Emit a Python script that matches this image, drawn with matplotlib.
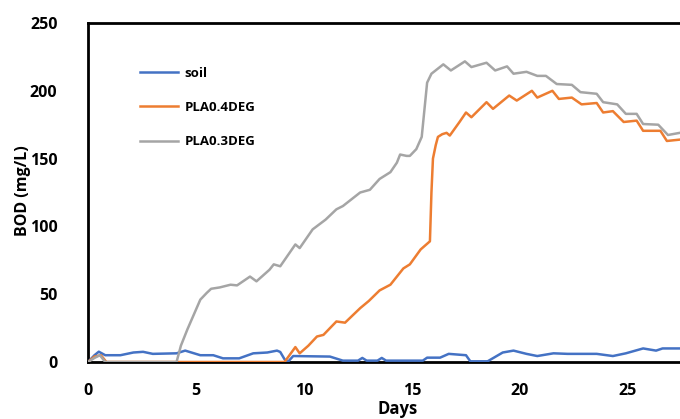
import matplotlib
matplotlib.use("Agg")
import matplotlib.pyplot as plt

plt.rcParams['font.family'] = ['Open Sans', 'DejaVu Sans']
plt.rcParams['font.weight'] = 'bold'

# ---- data ----
soil_days = [0, 0.3, 0.5, 0.8, 1.5, 2.1, 2.55, 3.0, 4.1, 4.5, 5.2, 5.8, 6.25, 7.0, 7.65,
             8.3, 8.75, 8.9, 9.1, 9.25, 9.5, 11.2, 11.8, 12.5, 12.7, 12.9, 13.4, 13.6,
             13.8, 15.5, 15.7, 16.3, 16.7, 17.5, 17.7, 18.5, 19.2, 19.7, 20.3, 20.8,
             21.55, 22.2, 23.55, 24.3, 24.9, 25.7, 26.3, 26.6, 27.4, 28]
soil_bod = [0, 5, 7.6, 5, 5, 7, 7.5, 6, 6.4, 8.4, 5, 5, 2.7, 2.7, 6.4,
            7, 8.4, 7.4, 2, 0, 4.4, 4, 1, 1, 3, 1, 1, 3,
            1, 1, 3.2, 3.2, 6, 5, 0.5, 0.5, 7, 8.4, 6, 4.4,
            6.4, 6, 6, 4.4, 6.4, 10, 8.4, 10, 10, 10]

pla04_days = [0, 0.3, 0.6, 0.85, 9.1, 9.6, 9.8, 10.2, 10.6, 10.9, 11.5, 11.9, 12.6, 13.0,
              13.5, 14.0, 14.6, 14.9, 15.4, 15.83, 15.9, 15.97, 16.1, 16.2, 16.4, 16.6,
              16.75, 17.2, 17.5, 17.75, 18.45, 18.75, 19.5, 19.85, 20.55, 20.8, 21.5,
              21.8, 22.4, 22.85, 23.55, 23.85, 24.3, 24.8, 25.4, 25.7, 26.5, 26.8, 27.4, 28]
pla04_bod = [0, 4, 5, 0, 0, 11, 6.4, 12, 18.8, 20, 29.9, 29, 39.7, 45,
             52.8, 57, 69, 72, 83, 89, 125, 150, 160, 166, 168, 169,
             167, 177, 184, 180.5, 191.6, 186.7, 196.5, 192.8, 200, 195, 200,
             194, 195, 190, 191, 184, 185, 177, 178, 170.5, 170.5, 163, 164, 164]

pla03_days = [0, 0.3, 0.55, 0.8, 4.1, 4.3, 4.6, 4.9, 5.2, 5.5, 5.7, 6.1, 6.6, 6.9, 7.5,
              7.8, 8.4, 8.6, 8.9, 9.6, 9.8, 10.4, 11.0, 11.5, 11.8, 12.6, 13.05, 13.5,
              14.0, 14.3, 14.45, 14.75, 14.9, 15.2, 15.45, 15.7, 15.9, 16.45, 16.8, 17.45,
              17.75, 18.45, 18.85, 19.4, 19.7, 20.3, 20.8, 21.2, 21.7, 22.4, 22.8, 23.55,
              23.85, 24.5, 24.9, 25.4, 25.7, 26.4, 26.85, 27.4, 28]
pla03_bod = [0, 3, 5, 0, 0, 12, 24, 35, 46, 51, 54, 55, 57, 56.5, 63,
             59.5, 68, 72, 70.6, 86.7, 84, 97.8, 105, 112.6, 115, 125, 127, 135,
             140, 147, 153, 152, 152, 157, 166, 206, 212.6, 219.5, 215, 221.7,
             217.5, 220.7, 215, 218, 212.6, 214, 211, 211, 205, 204.4, 199, 197.8,
             191.6, 190, 183, 183, 175.5, 175, 167.4, 169, 169]

series_names = ['soil', 'PLA0.4DEG', 'PLA0.3DEG']
series_colors = ['#4472C4', '#ED7D31', '#A5A5A5']
x_ticks = [0, 5, 10, 15, 20, 25]
y_ticks = [0, 50, 100, 150, 200, 250]

W, H = 680, 419
fig = plt.figure(figsize=(W / 100, H / 100), dpi=100)
ax_left, ax_bottom = 88, 362
ax_w = 28 * 21.6
ax_h = 362 - 23
ax = fig.add_axes([ax_left / W, (H - ax_bottom) / H, ax_w / W, ax_h / H])

for d, v, n, c in zip([soil_days, pla04_days, pla03_days],
                      [soil_bod, pla04_bod, pla03_bod], series_names, series_colors):
    ax.plot(d, v, color=c, lw=1.8, label=n, zorder=3, solid_joinstyle='round')

ax.set_xlim(0, 28)
ax.set_ylim(0, 250)
ax.set_xticks(x_ticks)
ax.set_yticks(y_ticks)
ax.tick_params(length=0, labelsize=11.5)
ax.tick_params(axis='x', pad=15)
ax.tick_params(axis='y', pad=22)
for lab in ax.get_xticklabels() + ax.get_yticklabels():
    lab.set_fontweight('bold')
for s in ['left', 'top', 'bottom']:
    ax.spines[s].set_linewidth(2)
    ax.spines[s].set_color('black')
ax.spines['right'].set_visible(False)

fig.text(398 / W, 1 - 418 / H, 'Days', ha='center', va='bottom', fontsize=12, fontweight='bold')
fig.text(23 / W, 1 - 191 / H, 'BOD (mg/L)', ha='center', va='center', rotation=90,
         fontsize=11.5, fontweight='bold')

leg = fig.legend(loc='upper left', bbox_to_anchor=(140 / W, 1 - 67 / H), frameon=False,
                 prop={'size': 9.5, 'weight': 'bold'}, handlelength=2.9,
                 handletextpad=0.5, labelspacing=1.6, borderpad=0, borderaxespad=0)

fig.savefig('out.png', dpi=100)
